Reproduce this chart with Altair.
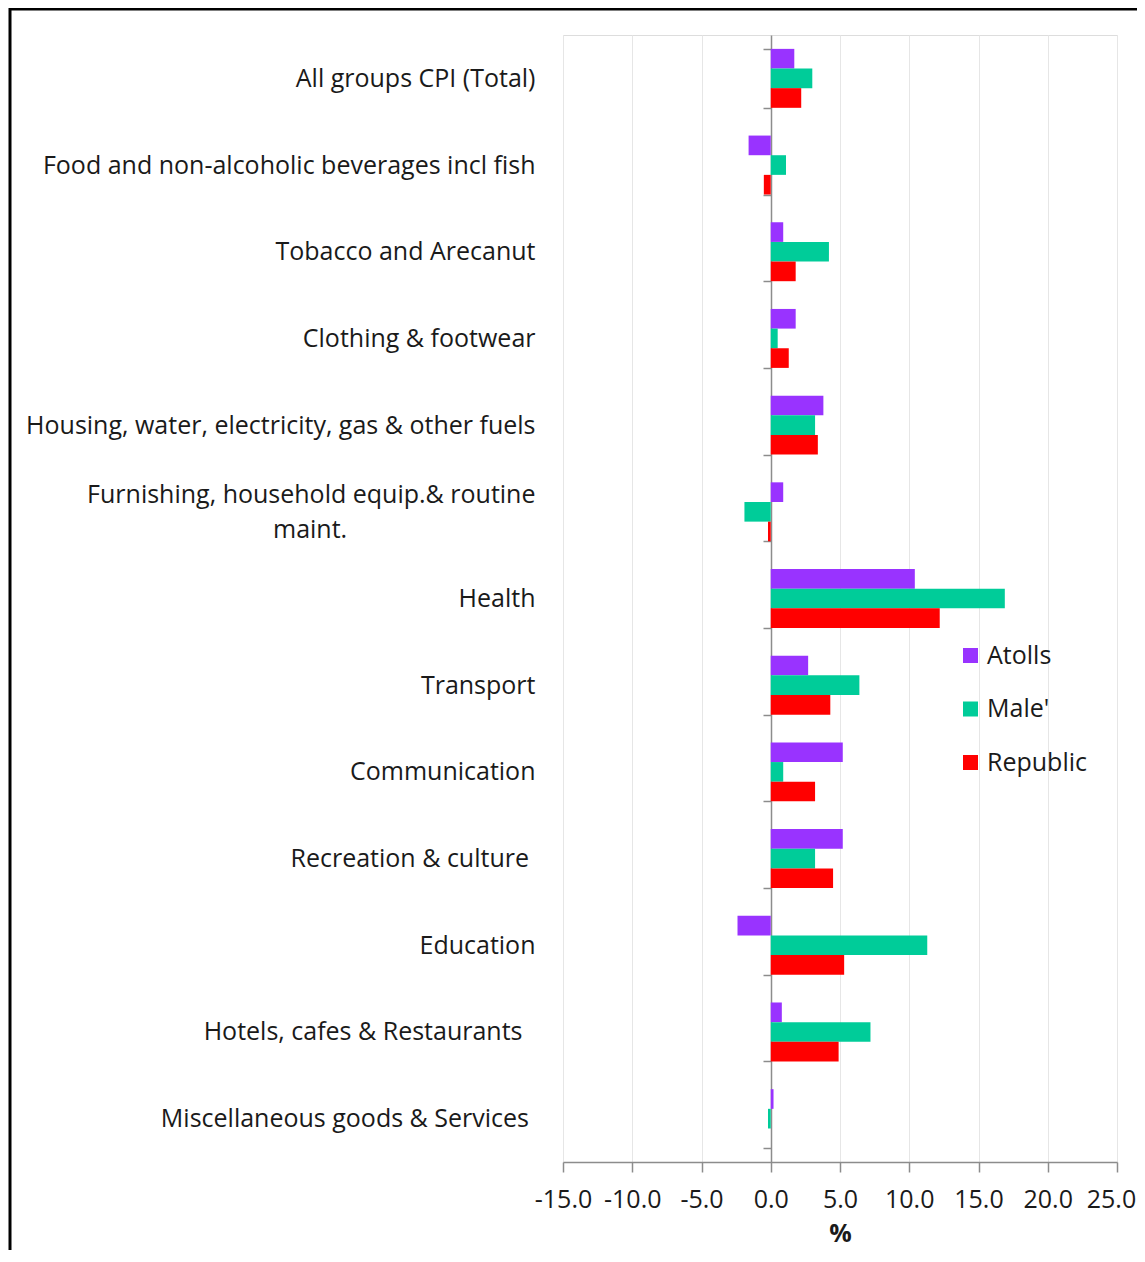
import altair as alt
import pandas as pd

NB = "\u00a0"
ZW = "\u200b"
categories = [
    "All groups CPI (Total)",
    "Food and non-alcoholic beverages incl fish",
    "Tobacco and Arecanut",
    "Clothing & footwear",
    "Housing, water, electricity, gas & other fuels",
    "Furnishing, household equip.& routine|maint." + NB * 29 + ZW,
    "Health",
    "Transport",
    "Communication",
    "Recreation & culture" + NB + ZW,
    "Education",
    "Hotels, cafes & Restaurants" + NB * 2 + ZW,
    "Miscellaneous goods & Services" + NB + ZW,
]
series = ["Atolls", "Male'", "Republic"]
atolls = [1.7, -1.6, 0.9, 1.8, 3.8, 0.9, 10.4, 2.7, 5.2, 5.2, -2.4, 0.8, 0.2]
male = [3.0, 1.1, 4.2, 0.5, 3.2, -1.9, 16.9, 6.4, 0.9, 3.2, 11.3, 7.2, -0.2]
republic = [2.2, -0.5, 1.8, 1.3, 3.4, -0.2, 12.2, 4.3, 3.2, 4.5, 5.3, 4.9, 0.0]
colors = ["#9933FF", "#00CC99", "#FF0000"]
x_ticks = [-15, -10, -5, 0, 5, 10, 15, 20, 25]

rows = []
for i, c in enumerate(categories):
    for s, vals in zip(series, [atolls, male, republic]):
        rows.append({"category": c, "series": s, "value": vals[i]})
df = pd.DataFrame(rows)

FONT = "Open Sans"
FS = 25
TXT = "#1a1a1a"
AX = "#8c8c8c"

bars = alt.Chart(df).mark_bar().encode(
    x=alt.X(
        "value:Q",
        scale=alt.Scale(domain=[-15, 25], nice=False, zero=False),
        axis=alt.Axis(
            values=x_ticks, title="%", labelOverlap=False, labelFlush=False,
            labelExpr="replace(format(datum.value, '.1f'), '\u2212', '-')",
            labelOffset={"condition": {"test": "datum.value >= 25", "value": -6}, "value": 0},
            grid=True, gridColor="#e6e6e6", gridWidth=1,
            domainColor=AX, domainWidth=1.5, tickColor=AX, tickWidth=1.5, tickSize=10,
            labelFont=FONT, labelFontSize=FS, labelColor=TXT, labelPadding=15,
            titleFont=FONT, titleFontSize=FS, titleFontWeight="bold", titleColor=TXT,
            titlePadding=9,
        ),
    ),
    y=alt.Y(
        "category:N", sort=categories, title=None,
        scale=alt.Scale(paddingInner=0.32, paddingOuter=0.16),
        axis=alt.Axis(
            offset=-208, tickBand="extent", tickSize=8, tickColor=AX, tickWidth=1.5,
            domainColor=AX, domainWidth=1.5, grid=False,
            labelFont=FONT, labelFontSize=FS, labelColor=TXT, labelPadding=228,
            labelLimit=600, labelLineHeight=35,
            labelOffset={"condition": {"test": "indexof(datum.label, '|') >= 0", "value": -17}, "value": 0},
            labelExpr="split(datum.label, '|')",
        ),
    ),
    yOffset=alt.YOffset("series:N", sort=series,
                        scale=alt.Scale(paddingInner=0, paddingOuter=0)),
    color=alt.Color(
        "series:N", sort=series,
        scale=alt.Scale(domain=series, range=colors),
        legend=alt.Legend(
            title=None, orient="none", legendX=395, legendY=608,
            symbolType="square", symbolSize=225, symbolStrokeWidth=0,
            labelFont=FONT, labelFontSize=FS, labelColor=TXT, labelOffset=4,
            rowPadding=27.5,
        ),
    ),
)

one = pd.DataFrame({"a": [0]})
frame_left = alt.Chart(one).mark_rule(color="black", strokeWidth=3).encode(
    x=alt.value(-553), y=alt.value(-27), y2=alt.value(1300))
frame_top = alt.Chart(one).mark_rule(color="black", strokeWidth=3).encode(
    x=alt.value(-554), x2=alt.value(700), y=alt.value(-26))

chart = alt.layer(bars, frame_left, frame_top).properties(
    width=554, height=1127,
    autosize=alt.AutoSizeParams(type="none"),
    padding={"left": 555, "top": 27, "right": 20, "bottom": 88},
).configure_view(stroke=None).configure(background="white")

chart.save("out.html", embed_options={"renderer": "svg", "actions": False})
